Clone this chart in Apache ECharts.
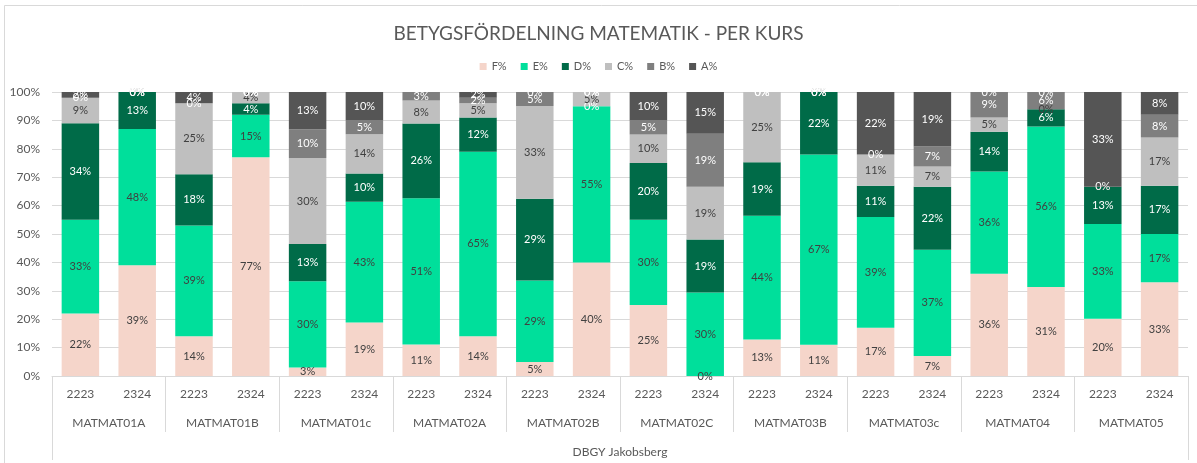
<!DOCTYPE html>
<html>
<head>
<meta charset="utf-8">
<script src="https://cdn.jsdelivr.net/npm/echarts@6/dist/echarts.min.js"></script>
<style>
  html, body { margin: 0; padding: 0; background: #fff; }
  #chart { width: 1197px; height: 463px; }
</style>
</head>
<body>
<div id="chart"></div>
<script>
// Betygsfördelning matematik - per kurs
const courses = ['MATMAT01A', 'MATMAT01B', 'MATMAT01c', 'MATMAT02A', 'MATMAT02B',
                 'MATMAT02C', 'MATMAT03B', 'MATMAT03c', 'MATMAT04', 'MATMAT05'];
const years = ['2223', '2324'];
const school = ['DBGY Jakobsberg'];

const gradeNames = ['F%', 'E%', 'D%', 'C%', 'B%', 'A%'];
const F = [22, 39, 14, 77, 3, 19, 11, 14, 5, 40, 25, 0, 13, 11, 17, 7, 36, 31, 20, 33];
const E = [33, 48, 39, 15, 30, 43, 51, 65, 29, 55, 30, 30, 44, 67, 39, 37, 36, 56, 33, 17];
const D = [34, 13, 18, 4, 13, 10, 26, 12, 29, 0, 20, 19, 19, 22, 11, 22, 14, 6, 13, 17];
const C = [9, 0, 25, 4, 30, 14, 8, 5, 33, 5, 10, 19, 25, 0, 11, 7, 5, 0, 0, 17];
const B = [0, 0, 0, 0, 10, 5, 3, 2, 5, 0, 5, 19, 0, 0, 0, 7, 9, 6, 0, 8];
const A = [2, 0, 4, 0, 13, 10, 0, 2, 0, 0, 10, 15, 0, 0, 22, 19, 0, 0, 33, 8];

const colors = ['#f5d5ca', '#00df9b', '#006b48', '#bfbfbf', '#7f7f7f', '#555555'];
const labelColors = ['#404040', '#404040', '#ffffff', '#404040', '#ffffff', '#ffffff'];

const gradeData = [F, E, D, C, B, A];
const categories = courses.flatMap(() => years);
// 100% stacked: each bar scaled to its own total, labels keep the raw percent
const totals = categories.map((_, i) => gradeData.reduce((s, arr) => s + arr[i], 0));

const font = 'Lato, "Noto Sans", sans-serif';

const chart = echarts.init(document.getElementById('chart'));

const series = gradeData.map((arr, g) => ({
    name: gradeNames[g],
    type: 'bar',
    stack: 'total',
    xAxisIndex: 0,
    barCategoryGap: '34%',
    itemStyle: { color: colors[g] },
    label: {
        show: true,
        position: 'inside',
        fontFamily: font,
        fontSize: 11,
        color: labelColors[g],
        formatter: p => arr[p.dataIndex] + '%'
    },
    data: arr.map((v, i) => v / totals[i] * 100)
}));

chart.setOption({
    backgroundColor: '#fff',
    animation: false,
    textStyle: { fontFamily: font },
    graphic: [{
        type: 'rect',
        shape: { x: 4.5, y: 5.5, width: 1210, height: 480 },
        style: { fill: 'none', stroke: '#d9d9d9', lineWidth: 1 },
        silent: true
    }],
    title: {
        text: 'BETYGSFÖRDELNING MATEMATIK - PER KURS',
        left: 'center',
        top: 19,
        textStyle: { fontFamily: font, fontSize: 19, fontWeight: 'normal', color: '#595959' }
    },
    legend: {
        top: 56,
        left: 'center',
        icon: 'rect',
        itemWidth: 7,
        itemHeight: 7,
        itemGap: 14,
        textStyle: { fontFamily: font, fontSize: 11, color: '#595959' },
        data: gradeNames
    },
    grid: { left: 52, right: 9, top: 92, bottom: 87 },
    xAxis: [
        {
            type: 'category',
            data: categories,
            axisLine: { lineStyle: { color: '#d9d9d9' } },
            axisTick: { show: false },
            axisLabel: { interval: 0, margin: 12, fontSize: 12, color: '#595959', fontFamily: font }
        },
        {
            type: 'category',
            position: 'bottom',
            data: courses,
            axisLine: { show: false },
            axisTick: { show: true, interval: 0, length: 56, lineStyle: { color: '#d9d9d9' } },
            axisLabel: { interval: 0, margin: 41, fontSize: 12, color: '#595959', fontFamily: font }
        },
        {
            type: 'category',
            position: 'bottom',
            data: school,
            axisLine: { show: false },
            axisTick: { show: true, interval: 0, length: 84, lineStyle: { color: '#d9d9d9' } },
            axisLabel: { interval: 0, margin: 70, fontSize: 12, color: '#595959', fontFamily: font }
        }
    ],
    yAxis: {
        type: 'value',
        min: 0,
        max: 100,
        interval: 10,
        axisLine: { show: false },
        axisTick: { show: false },
        axisLabel: { formatter: '{value}%', fontSize: 12, color: '#595959', margin: 12, fontFamily: font },
        splitLine: { lineStyle: { color: '#d9d9d9' } }
    },
    series: series
});
</script>
</body>
</html>
